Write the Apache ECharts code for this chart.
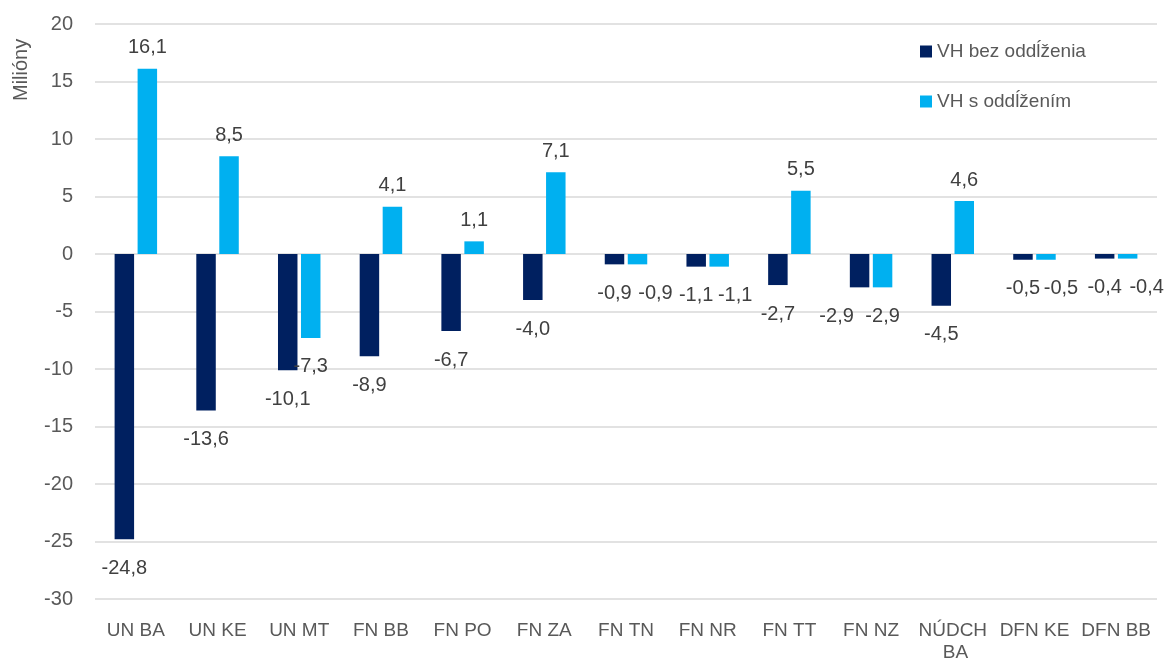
<!DOCTYPE html>
<html>
<head>
<meta charset="utf-8">
<script src="https://cdn.jsdelivr.net/npm/echarts@6/dist/echarts.min.js"></script>
<style>
    html, body { margin: 0; padding: 0; background: #fff; }
    #chart { width: 1164px; height: 664px; }
</style>
</head>
<body>
<div id="chart"></div>
<script>
// kategórie a hodnoty (milióny)
const categories = ['UN BA', 'UN KE', 'UN MT', 'FN BB', 'FN PO', 'FN ZA', 'FN TN', 'FN NR', 'FN TT', 'FN NZ', 'NÚDCH BA', 'DFN KE', 'DFN BB'];
const bezOddlzenia = [-24.8, -13.6, -10.1, -8.9, -6.7, -4.0, -0.9, -1.1, -2.7, -2.9, -4.5, -0.5, -0.4];
const sOddlzenim = [16.1, 8.5, -7.3, 4.1, 1.1, 7.1, -0.9, -1.1, 5.5, -2.9, 4.6, -0.5, -0.4];
const seriesNames = ['VH bez oddĺženia', 'VH s oddĺžením'];

// posun popiskov, ktoré by sa prekrývali (len rozloženie)
const labelShiftDark = { 'FN NZ': -23 };
const labelShiftLight = { 'FN TN': 18, 'FN NR': 16, 'DFN KE': 15, 'DFN BB': 19 };

const FONT = "'Liberation Sans Narrow', 'Arial Narrow', 'Liberation Sans', Arial, sans-serif";
const TEXT = '#595959';

const chart = echarts.init(document.getElementById('chart'));

// popisky: kladné nad stĺpcom, záporné pod ním
function withLabels(values, shifts) {
    return values.map((v, i) => ({
        value: v,
        label: {
            position: v >= 0 ? 'top' : 'bottom',
            distance: v >= 0 ? 11 : 19,
            offset: [shifts[categories[i]] || 0, 0]
        }
    }));
}

function makeSeries(name, values, color, shifts) {
    return {
        name: name,
        type: 'bar',
        barGap: '18%',
        barCategoryGap: '48%',
        itemStyle: { color: color },
        label: {
            show: true,
            fontFamily: FONT,
            fontSize: 20,
            color: '#404040',
            formatter: p => p.value.toFixed(1).replace('.', ',')
        },
        data: withLabels(values, shifts)
    };
}

const option = {
    animation: false,
    textStyle: { fontFamily: FONT },
    grid: { left: 95, right: 7, top: 24, bottom: 64, containLabel: false },
    legend: {
        orient: 'vertical',
        left: 915,
        top: 37,
        itemWidth: 12,
        itemHeight: 12,
        itemGap: 31,
        icon: 'rect',
        textStyle: { fontFamily: FONT, fontSize: 19, color: TEXT },
        data: seriesNames
    },
    graphic: [{
        type: 'text',
        x: 11,
        y: 101,
        rotation: Math.PI / 2,
        style: { text: 'Milióny', font: '20px ' + FONT, fill: TEXT }
    }],
    xAxis: {
        type: 'category',
        data: categories,
        axisLine: { show: false, onZero: false },
        axisTick: { show: false },
        axisLabel: {
            interval: 0,
            color: TEXT,
            fontSize: 19,
            margin: 21,
            width: 78,
            overflow: 'break',
            lineHeight: 22
        }
    },
    yAxis: {
        type: 'value',
        min: -30,
        max: 20,
        interval: 5,
        axisLine: { show: false },
        axisTick: { show: false },
        axisLabel: { color: TEXT, fontSize: 20, margin: 22 },
        splitLine: { lineStyle: { color: '#d9d9d9', width: 1.5 } }
    },
    series: [
        makeSeries(seriesNames[0], bezOddlzenia, '#002060', labelShiftDark),
        makeSeries(seriesNames[1], sOddlzenim, '#00b0f0', labelShiftLight)
    ]
};

chart.setOption(option);
</script>
</body>
</html>
